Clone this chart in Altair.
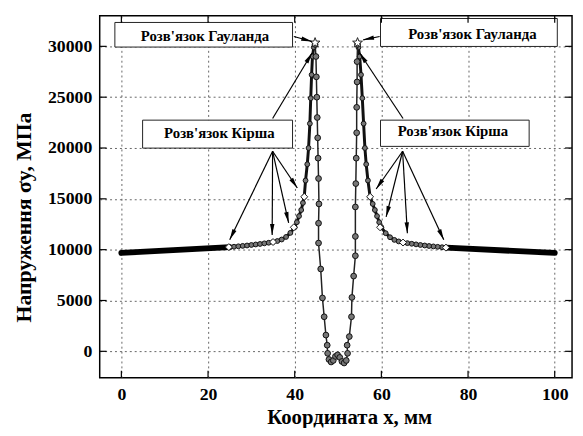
import math
import altair as alt
import pandas as pd

W, H = 479, 367
X_DOMAIN = [-5, 104]
Y_DOMAIN = [-2600, 33000]

x_ticks = [0, 20, 40, 60, 80, 100]
y_ticks = [0, 5000, 10000, 15000, 20000, 25000, 30000]

# thick, almost straight outer parts
flat_left_x = [0, 25]
flat_left_y = [9680, 10250]
flat_right_x = [75, 100]
flat_right_y = [10200, 9680]

# Kirsch branch, left
kirsch_left_x = [25, 26, 27, 28, 29, 30, 31, 32, 33, 34, 35, 36, 37, 38, 39,
                 40, 40.5, 41, 41.5, 41.9, 42.2, 42.5, 42.9, 43.2, 43.5, 43.7, 43.9, 44.1, 44.4]
kirsch_left_y = [10250, 10290, 10330, 10370, 10410, 10460, 10510, 10560, 10620, 10680, 10750, 10850, 11000, 11250, 11650,
                 12200, 12700, 13300, 13900, 14600, 15200, 16800, 18400, 20000, 22400, 24900, 27200, 29000, 29900]
# Kirsch branch, right
kirsch_right_x = [75, 74, 73, 72, 71, 70, 69, 68, 67, 66, 65, 64, 63, 62, 61,
                  60, 59.5, 59, 58.5, 58, 57.4, 56.9, 56.5, 56.2, 55.9, 55.6, 55.3, 55.0, 54.7]
kirsch_right_y = [10200, 10240, 10280, 10320, 10360, 10410, 10460, 10520, 10580, 10640, 10700, 10810, 10960, 11220, 11620,
                  12200, 12700, 13300, 13900, 14500, 15200, 16800, 18400, 20000, 22400, 24900, 27200, 29000, 29900]

# inner (hole) branch: left peak -> bottom -> right peak
inner_x = [44.7, 44.9, 45.0, 45.1, 45.2, 45.3, 45.4, 45.5, 45.6, 45.5, 45.5, 46.0, 46.4, 46.8, 47.2, 47.5,
           47.6, 47.9, 48.4, 48.9, 49.4, 49.9, 50.4, 50.9, 51.4, 51.9, 52.2, 52.1, 52.6, 53.1, 53.2, 53.6,
           54.0, 54.0, 54.0, 54.1, 54.2, 54.3, 54.3, 54.4, 54.4, 54.5]
inner_y = [30200, 29000, 27000, 25000, 23000, 21000, 19000, 17000, 14500, 12600, 10650, 8100, 5250, 3400, 1600, 600,
           -200, -800, -1050, -900, -500, -350, -600, -1000, -1150, -900, -200, 600, 1450, 3400, 5300, 7400,
           9400, 11300, 14200, 16500, 19000, 21500, 24000, 26500, 28500, 30200]

# Kirsch solution points (diamonds) and Howland solution points (stars)
diamond_x = [24.8, 35.0, 39.8, 42.2, 57.4, 59.7, 65.0, 74.9]
diamond_y = [10250, 10750, 12200, 15200, 15200, 12200, 10700, 10200]
star_x = [44.7, 54.5]
star_y = [30350, 30350]

# annotation boxes
label_text = ["Розв'язок Гауланда", "Розв'язок Гауланда", "Розв'язок Кірша", "Розв'язок Кірша"]
label_x = [19.3, 81.0, 22.6, 76.5]
label_y = [31050, 31250, 21510, 21700]
box_x1 = [-1.5, 59.8, 4.9, 59.8]
box_x2 = [39.5, 100.6, 39.5, 94.1]
box_y1 = [29930, 29990, 19990, 20160]
box_y2 = [32350, 32740, 22740, 22740]

# arrows (start -> tip)
arrow_x1 = [34.9, 34.9, 34.9, 34.9, 64.9, 64.9, 64.9, 64.9, 34.9, 65.0, 39.8, 59.6]
arrow_y1 = [19680, 19680, 19680, 19680, 19680, 19680, 19680, 19680, 22900, 22900, 30970, 30970]
arrow_x2 = [25.0, 34.8, 38.6, 40.6, 58.8, 61.1, 66.0, 74.4, 44.0, 55.0, 44.0, 55.8]
arrow_y2 = [10968, 11450, 12640, 16065, 15970, 13220, 11610, 10965, 29350, 29350, 30480, 30640]

FONT = "Liberation Serif"

xs = alt.Scale(domain=X_DOMAIN, nice=False, zero=False)
ys = alt.Scale(domain=Y_DOMAIN, nice=False, zero=False)
xaxis = alt.Axis(values=x_ticks, grid=True, ticks=False, domain=False, labelFlush=False, format="d",
                 labelFont=FONT, labelFontSize=18, labelFontWeight="bold", labelColor="black",
                 labelPadding=8, title="Координата x, мм", titleFont=FONT, titleFontSize=21,
                 titleFontWeight="bold", titleColor="black", titleX=253, titleY=46,
                 titleAlign="center", titleBaseline="alphabetic")
yaxis = alt.Axis(values=y_ticks, grid=True, ticks=False, domain=False, labelFlush=False, format="d",
                 labelFont=FONT, labelFontSize=18, labelFontWeight="bold", labelColor="black",
                 labelPadding=8, title="Напруження σy, МПа", titleFont=FONT, titleFontSize=22,
                 titleFontWeight="bold", titleColor="black", titleX=-70, titleY=204,
                 titleAlign="center", titleBaseline="alphabetic", titleAngle=270)


def X(f="x"):
    return alt.X(f"{f}:Q", scale=xs, axis=xaxis)


def Y(f="y"):
    return alt.Y(f"{f}:Q", scale=ys, axis=yaxis)


# data frames
flat_df = pd.DataFrame({
    "x": flat_left_x + flat_right_x,
    "y": flat_left_y + flat_right_y,
    "seg": ["L"] * len(flat_left_x) + ["R"] * len(flat_right_x),
    "o": list(range(len(flat_left_x))) + list(range(len(flat_right_x))),
})
curve_rows = []
for name, xx, yy in [("kl", kirsch_left_x, kirsch_left_y), ("kr", kirsch_right_x, kirsch_right_y),
                     ("in", inner_x, inner_y)]:
    for i, (a, b) in enumerate(zip(xx, yy)):
        curve_rows.append({"x": a, "y": b, "seg": name, "o": i})
curve_df = pd.DataFrame(curve_rows)
kir_df = curve_df[curve_df.seg != "in"]
inn_df = curve_df[curve_df.seg == "in"]

dia_df = pd.DataFrame({"x": diamond_x, "y": diamond_y})
star_df = pd.DataFrame({"x": star_x, "y": star_y})
box_df = pd.DataFrame({"x1": box_x1, "x2": box_x2, "y1": box_y1, "y2": box_y2})
lab_df = pd.DataFrame({"x": label_x, "y": label_y, "t": label_text})

sx = W / (X_DOMAIN[1] - X_DOMAIN[0])
sy = H / (Y_DOMAIN[1] - Y_DOMAIN[0])
angles = []
for a1, b1, a2, b2 in zip(arrow_x1, arrow_y1, arrow_x2, arrow_y2):
    dx = (a2 - a1) * sx
    dys = -(b2 - b1) * sy
    angles.append(math.degrees(math.atan2(dx, -dys)) % 360)
arr_df = pd.DataFrame({"x1": arrow_x1, "y1": arrow_y1, "x2": arrow_x2, "y2": arrow_y2, "ang": angles})

xt_df = pd.DataFrame({"t": x_ticks})
yt_df = pd.DataFrame({"t": y_ticks})

# star path
pts = []
for i in range(10):
    r = 1.0 if i % 2 == 0 else 0.42
    a = math.radians(-90 + 36 * i)
    pts.append(f"{r * math.cos(a):.3f},{r * math.sin(a):.3f}")
STAR = "M" + "L".join(pts) + "Z"
HEAD = "M0,0L-0.45,2.2L0.45,2.2Z"

boxes = alt.Chart(box_df).mark_rect(fill="white", stroke="#222", strokeWidth=1).encode(
    x=X("x1"), x2="x2:Q", y=Y("y1"), y2="y2:Q")

flat = alt.Chart(flat_df).mark_line(color="black", strokeWidth=6, strokeCap="round").encode(
    x=X(), y=Y(), detail="seg:N", order="o:Q")

kir_line = alt.Chart(kir_df).mark_line(color="#111", strokeWidth=3).encode(
    x=X(), y=Y(), detail="seg:N", order="o:Q")
kir_pts = alt.Chart(kir_df).mark_point(shape="circle", filled=True, fill="#777", stroke="#111",
                                       strokeWidth=1, size=24, opacity=1).encode(x=X(), y=Y())

inn_line = alt.Chart(inn_df).mark_line(color="#222", strokeWidth=1.5).encode(
    x=X(), y=Y(), detail="seg:N", order="o:Q")
inn_pts = alt.Chart(inn_df).mark_point(shape="circle", filled=True, fill="#777", stroke="#111",
                                       strokeWidth=1, size=34, opacity=1).encode(x=X(), y=Y())

dias = alt.Chart(dia_df).mark_point(shape="diamond", filled=True, fill="white", stroke="#222",
                                    strokeWidth=1, size=50, opacity=1).encode(x=X(), y=Y())
stars = alt.Chart(star_df).mark_point(shape=STAR, filled=True, fill="white", stroke="#222",
                                      strokeWidth=1, size=110, opacity=1).encode(x=X(), y=Y())

arr_lines = alt.Chart(arr_df).mark_rule(color="black", strokeWidth=1.2).encode(
    x=X("x1"), x2="x2:Q", y=Y("y1"), y2="y2:Q")
arr_heads = alt.Chart(arr_df).mark_point(shape=HEAD, filled=True, color="black", size=100, opacity=1).encode(
    x=X("x2"), y=Y("y2"), angle=alt.Angle("ang:Q", scale=None))

labels = alt.Chart(lab_df).mark_text(font=FONT, fontSize=15, fontWeight="bold", color="black",
                                     align="center", baseline="middle").encode(x=X(), y=Y(), text="t:N")

tick_b = alt.Chart(xt_df).mark_rule(color="black", strokeWidth=1.2).encode(
    x=X("t"), y=alt.value(H), y2=alt.value(H - 7))
tick_t = alt.Chart(xt_df).mark_rule(color="black", strokeWidth=1.2).encode(
    x=X("t"), y=alt.value(0), y2=alt.value(7))
tick_l = alt.Chart(yt_df).mark_rule(color="black", strokeWidth=1.2).encode(
    y=Y("t"), x=alt.value(0), x2=alt.value(7))
tick_r = alt.Chart(yt_df).mark_rule(color="black", strokeWidth=1.2).encode(
    y=Y("t"), x=alt.value(W), x2=alt.value(W - 7))

chart = alt.layer(
    boxes, flat, kir_line, kir_pts, inn_line, inn_pts, dias, stars,
    arr_lines, arr_heads, labels, tick_b, tick_t, tick_l, tick_r
).properties(
    width=W, height=H,
    autosize=alt.AutoSizeParams(type="none"),
    padding={"left": 93, "top": 5, "right": 3, "bottom": 48},
    background="white",
).configure_view(
    stroke="black", strokeWidth=1.5
).configure_axis(
    gridColor="#555", gridDash=[2, 3], gridWidth=0.9, gridOpacity=1
)

chart.save("out.html", embed_options={"renderer": "svg", "actions": False})
